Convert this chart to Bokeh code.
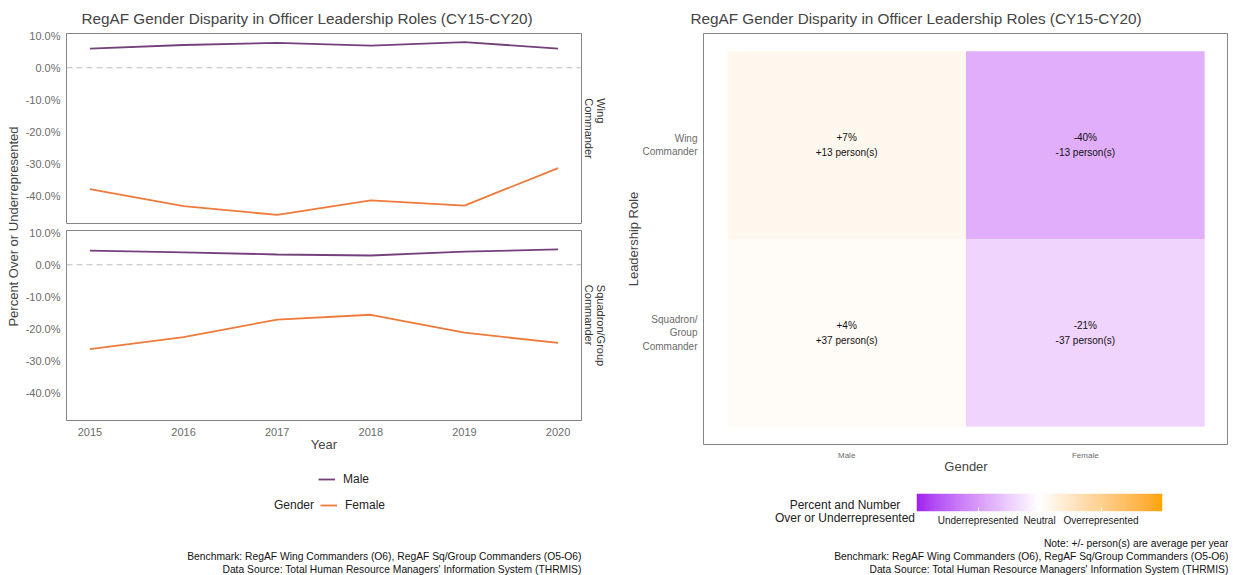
import numpy as np
from bokeh.plotting import figure
from bokeh.models import (Range1d, FactorRange, Span, Title, Legend, LegendItem,
                          LinearColorMapper, ColumnDataSource, FixedTicker,
                          PrintfTickFormatter, Div)
from bokeh.core.properties import value
from bokeh.layouts import row, column
from bokeh.embed import file_html
from bokeh.resources import INLINE

FONT = "Liberation Sans"

# ---------------- data ----------------
years = [2015, 2016, 2017, 2018, 2019, 2020]
wing_male = [6.0, 7.1, 7.8, 6.9, 8.0, 6.0]
wing_female = [-37.9, -43.2, -45.9, -41.4, -43.0, -31.3]
sq_male = [4.4, 3.9, 3.2, 2.9, 4.1, 4.8]
sq_female = [-26.3, -22.6, -17.1, -15.6, -21.2, -24.4]
y_ticks = [10, 0, -10, -20, -30, -40]

genders = ["Male", "Female"]
roles = ["Squadron/\nGroup\nCommander", "Wing\nCommander"]
tile_gender = ["Male", "Female", "Male", "Female"]
tile_role = ["Wing\nCommander", "Wing\nCommander",
             "Squadron/\nGroup\nCommander", "Squadron/\nGroup\nCommander"]
tile_pct = [7, -40, 4, -21]
tile_persons = [13, -13, 37, -37]
scale_breaks = [-50, 0, 50]
scale_labels = ["Underrepresented", "Neutral", "Overrepresented"]
scale_limits = [-100, 100]

TITLE = "RegAF Gender Disparity in Officer Leadership Roles (CY15-CY20)"
BENCH = "Benchmark: RegAF Wing Commanders (O6), RegAF Sq/Group Commanders (O5-O6)"
SOURCE = "Data Source: Total Human Resource Managers' Information System (THRMIS)"
NOTE = "Note: +/- person(s) are average per year"
MALE_C = "#74407A"
FEMALE_C = "#EE7A3B"
GRAY_TXT = "#6B6B6B"
BORDER = "#858585"
TITLE_SIZE = "15.3px"
CAP_SIZE = "10.3px"

# ---------------- colour palette (Lab interpolation, purple-white-orange) ----
M = np.array([[0.4124, 0.3576, 0.1805], [0.2126, 0.7152, 0.0722], [0.0193, 0.1192, 0.9505]])
Minv = np.linalg.inv(M)
WHITE_REF = np.array([0.95047, 1.0, 1.08883])


def hex2rgb(h):
    return np.array([int(h[i:i + 2], 16) for i in (1, 3, 5)], float)


def rgb2lab(rgb):
    c = rgb / 255.0
    c = np.where(c <= 0.04045, c / 12.92, ((c + 0.055) / 1.055) ** 2.4)
    xyz = M @ c / WHITE_REF
    d = 6 / 29
    f = np.where(xyz > d ** 3, np.cbrt(xyz), xyz / (3 * d * d) + 4 / 29)
    return np.array([116 * f[1] - 16, 500 * (f[0] - f[1]), 200 * (f[1] - f[2])])


def lab2hex(lab):
    L, a, b = lab
    fy = (L + 16) / 116
    f = np.array([fy + a / 500, fy, fy - b / 200])
    d = 6 / 29
    xyz = np.where(f > d, f ** 3, 3 * d * d * (f - 4 / 29)) * WHITE_REF
    c = np.clip(Minv @ xyz, 0, 1)
    c = np.where(c <= 0.0031308, 12.92 * c, 1.055 * c ** (1 / 2.4) - 0.055)
    c = np.clip(np.round(c * 255), 0, 255).astype(int)
    return "#%02x%02x%02x" % tuple(c)


def ramp(c1, c2, n):
    l1, l2 = rgb2lab(hex2rgb(c1)), rgb2lab(hex2rgb(c2))
    return [lab2hex(l1 + (l2 - l1) * t) for t in np.linspace(0, 1, n)]


palette = ramp("#A020F0", "#FFFFFF", 128) + ramp("#FFFFFF", "#FFA500", 128)[1:]
mapper = LinearColorMapper(palette=palette, low=scale_limits[0], high=scale_limits[1])


def blank(p):
    p.outline_line_color = None
    p.xgrid.visible = False
    p.ygrid.visible = False


def caption(text, align="right"):
    return Title(text=text, align=align, text_font=FONT, text_font_size=CAP_SIZE,
                 text_font_style="normal", text_color="#111111", standoff=0)


# ---------------- left: faceted line chart ----------------
all_vals = wing_male + wing_female + sq_male + sq_female
lo, hi = min(all_vals), max(all_vals)
pad = (hi - lo) * 0.05
xpad = (max(years) - min(years)) * 0.05
x_range = Range1d(min(years) - xpad, max(years) + xpad)

YLW = 22           # width of the shared y-label strip
LW, LBL, LBR = 588, 43, 28


def make_panel(male, female, strip, bottom, height, mtop, mbottom):
    p = figure(width=LW, height=height, x_range=x_range,
               y_range=Range1d(lo - pad, hi + pad),
               toolbar_location=None, output_backend="svg",
               min_border_left=LBL, min_border_right=LBR,
               min_border_top=mtop, min_border_bottom=mbottom,
               x_axis_location="below" if bottom else None)
    p.outline_line_color = BORDER
    p.outline_line_width = 1
    p.xgrid.visible = False
    p.ygrid.visible = False
    p.add_layout(Span(location=0, dimension="width", line_color="#BDBDBD",
                      line_dash="6 4", line_width=1))
    rm = p.line(years, male, line_color=MALE_C, line_width=1.8)
    rf = p.line(years, female, line_color=FEMALE_C, line_width=1.8)
    p.yaxis.ticker = FixedTicker(ticks=y_ticks)
    p.yaxis.formatter = PrintfTickFormatter(format="%.1f%%")
    p.yaxis.major_label_text_font = FONT
    p.yaxis.major_label_text_font_size = "11px"
    p.yaxis.major_label_text_color = GRAY_TXT
    p.yaxis.major_label_standoff = 0
    p.yaxis.axis_line_color = None
    p.yaxis.major_tick_line_color = None
    p.yaxis.minor_tick_line_color = None
    p.add_layout(Title(text=strip, align="center", text_font=FONT, text_font_size="11px",
                       text_font_style="normal", text_color="#333333", standoff=3), "right")
    if bottom:
        p.xaxis.ticker = FixedTicker(ticks=years)
        p.xaxis.major_label_text_font = FONT
        p.xaxis.major_label_text_font_size = "11px"
        p.xaxis.major_label_text_color = GRAY_TXT
        p.xaxis.major_label_standoff = 1
        p.xaxis.axis_line_color = None
        p.xaxis.major_tick_line_color = None
        p.xaxis.minor_tick_line_color = None
        p.xaxis.axis_label = "Year"
        p.xaxis.axis_label_text_font = FONT
        p.xaxis.axis_label_text_font_size = "13px"
        p.xaxis.axis_label_text_font_style = "normal"
        p.xaxis.axis_label_standoff = -2
    return p, rm, rf


pA, _, _ = make_panel(wing_male, wing_female, "Wing\nCommander", False, 226, 33, 3)
pA.add_layout(Title(text=TITLE, align="left", offset=15, text_font=FONT,
                    text_font_size=TITLE_SIZE, text_font_style="normal", standoff=14), "above")
pB, rmB, rfB = make_panel(sq_male, sq_female, "Squadron/Group\nCommander", True, 230, 4, 36)

# legend + captions area (keys reuse the series styling; renderers hidden)
pC = figure(width=LW, height=119, x_range=x_range, y_range=pB.y_range,
            min_border_left=LBL, min_border_right=LBR, min_border_top=0, min_border_bottom=27,
            toolbar_location=None, output_backend="svg",
            x_axis_location=None, y_axis_location=None)
blank(pC)
kM = pC.line(years, sq_male, line_color=MALE_C, line_width=1.8, visible=False)
kF = pC.line(years, sq_female, line_color=FEMALE_C, line_width=1.8, visible=False)
kG = pC.line(years, sq_female, line_color=None, visible=False)
legend_style = dict(label_text_font=FONT, label_text_font_size="12px",
                    label_text_color="#222222", glyph_width=17, glyph_height=20,
                    label_height=20, padding=0, margin=0, label_standoff=8, spacing=6,
                    border_line_color=None, background_fill_alpha=0, inactive_fill_alpha=0)
legA = Legend(items=[LegendItem(label="Male", renderers=[kM])], orientation="vertical",
              location=(252, 59), **legend_style)
legB = Legend(items=[LegendItem(label="Gender", renderers=[kG]),
                     LegendItem(label="Female", renderers=[kF])], orientation="horizontal",
              location=(183, 33), **legend_style)
pC.add_layout(legA, "center")
pC.add_layout(legB, "center")
pC.add_layout(caption(BENCH), "below")
pC.add_layout(caption(SOURCE), "below")

pL = figure(width=YLW, height=452, min_border_left=YLW - 2, min_border_right=0,
            min_border_top=0, min_border_bottom=0, toolbar_location=None,
            output_backend="svg", x_axis_location=None, y_axis_location=None)
blank(pL)
pL.add_layout(Title(text="Percent Over or Underrepresented", align="center",
                    text_font=FONT, text_font_size="13px", text_font_style="normal",
                    vertical_align="bottom", standoff=0), "left")

# ---------------- right: heatmap ----------------
labels = [f"{p:+d}%\n{n:+d} person(s)" for p, n in zip(tile_pct, tile_persons)]
src = ColumnDataSource(dict(gender=tile_gender, role=tile_role, pct=tile_pct, label=labels))

RW, RBL = 618, 93
pR = figure(x_range=FactorRange(factors=genders, range_padding=0.1, range_padding_units="absolute"),
            y_range=FactorRange(factors=roles, range_padding=0.095, range_padding_units="absolute"),
            width=RW, height=476, min_border_left=RBL, min_border_right=0,
            min_border_top=33, min_border_bottom=30,
            toolbar_location=None, output_backend="svg")
pR.outline_line_color = BORDER
pR.xgrid.visible = False
pR.ygrid.visible = False
pR.rect(x="gender", y="role", width=1, height=1, source=src,
        fill_color={"field": "pct", "transform": mapper}, line_color=None)
pR.text(x="gender", y="role", text="label", source=src, text_align="center",
        text_baseline="middle", text_font_size="10px", text_font=value(FONT),
        text_line_height=1.4, text_color="#111111")
pR.axis.axis_line_color = None
pR.axis.major_tick_line_color = None
pR.axis.minor_tick_line_color = None
pR.axis.major_label_text_font = FONT
pR.axis.major_label_text_color = GRAY_TXT
pR.xaxis.major_label_text_font_size = "8px"
pR.yaxis.major_label_text_font_size = "10px"
pR.xaxis.major_label_standoff = 0
pR.yaxis.major_label_standoff = 0
pR.xaxis.axis_label = "Gender"
pR.yaxis.axis_label = "Leadership Role"
pR.axis.axis_label_text_font = FONT
pR.axis.axis_label_text_font_size = "13px"
pR.axis.axis_label_text_font_style = "normal"
pR.xaxis.axis_label_standoff = -4
pR.yaxis.axis_label_standoff = -2
pR.add_layout(Title(text=TITLE, align="left", offset=-13, text_font=FONT,
                    text_font_size=TITLE_SIZE, text_font_style="normal", standoff=14), "above")

# colour scale: title (html) + strip
DIVW = 306
cbar_title = Div(text='<div style="margin-left:163px;margin-top:23px;width:144px;'
                      'text-align:center;font-family:\'Liberation Sans\';font-size:12px;'
                      'line-height:13px;color:#222222;white-space:nowrap">'
                      'Percent and Number<br>Over or Underrepresented</div>',
                 width=DIVW, height=52, margin=0)
pD = figure(x_range=Range1d(scale_limits[0], scale_limits[1]), y_range=Range1d(0, 1),
            width=RW - DIVW, height=52, min_border_left=0, min_border_right=RW - DIVW - 246,
            min_border_top=17, min_border_bottom=15,
            toolbar_location=None, output_backend="svg", y_axis_location=None)
blank(pD)
grad = np.linspace(scale_limits[0], scale_limits[1], 256).reshape(1, -1)
pD.image(image=[grad], x=scale_limits[0], y=0, dw=scale_limits[1] - scale_limits[0], dh=1,
         color_mapper=mapper)
pD.xaxis.ticker = FixedTicker(ticks=scale_breaks)
pD.xaxis.major_label_overrides = {b: l for b, l in zip(scale_breaks, scale_labels)}
pD.xaxis.major_label_text_font = FONT
pD.xaxis.major_label_text_font_size = "10px"
pD.xaxis.major_label_text_color = "#222222"
pD.xaxis.major_label_standoff = 3
pD.xaxis.axis_line_color = None
pD.xaxis.major_tick_line_color = "white"
pD.xaxis.major_tick_in = 4
pD.xaxis.major_tick_out = 0
pD.xaxis.minor_tick_line_color = None

# right captions
pE = figure(width=RW, height=47, min_border_left=RBL, min_border_right=0,
            min_border_top=0, min_border_bottom=40, x_range=Range1d(0, 1), y_range=Range1d(0, 1),
            toolbar_location=None, output_backend="svg",
            x_axis_location=None, y_axis_location=None)
blank(pE)
for txt in [NOTE, BENCH, SOURCE]:
    pE.add_layout(caption(txt), "below")

layout = row(pL, column(pA, pB, pC), column(pR, row(cbar_title, pD), pE))
open("out.html", "w").write(file_html(layout, INLINE, title="RegAF Gender Disparity"))
